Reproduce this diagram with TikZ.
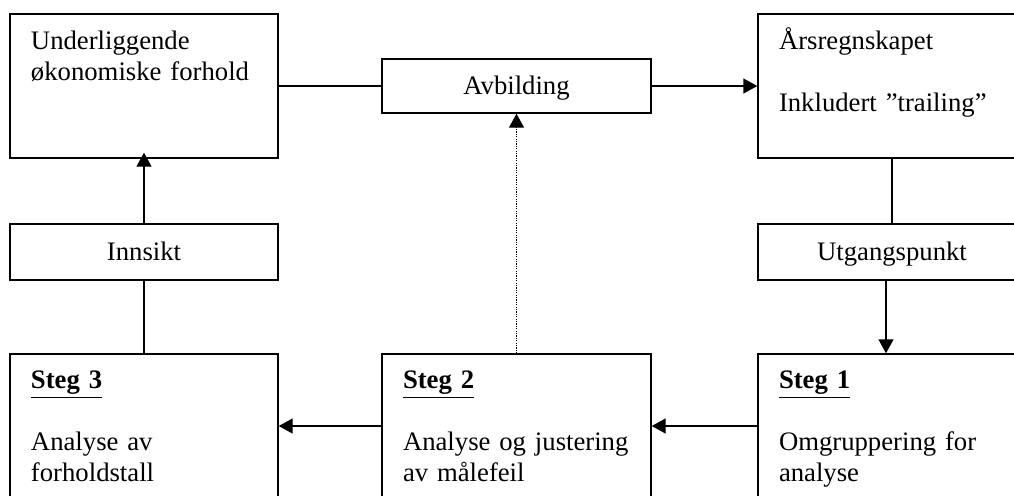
\documentclass[tikz,border=0pt]{standalone}
\usepackage{fontspec}
\setmainfont{Liberation Serif}
\usetikzlibrary{arrows.meta, positioning}

\newcommand{\tekst}{\fontsize{13.35pt}{15.5pt}\selectfont}
\tikzset{
  boks/.style={draw, rectangle, inner sep=0pt, minimum width=134pt, minimum height=72pt, font=\tekst},
  smalboks/.style={boks, minimum height=28pt, text height=11.5pt, text depth=3pt},
  bokstekst/.style={anchor=base west, inner sep=0pt, align=left, text width=125pt, font=\tekst},
  pil/.style={-{Triangle[length=7pt,width=7.5pt]}},
}

\begin{document}
\begin{tikzpicture}[x=0.5pt, y=-0.5pt, line width=0.7pt]
    \useasboundingbox (0,0) rectangle (1014,495);
    \clip (0,0) rectangle (1014,495);

    % Top row
    \node[boks] (okon) at (144,86) {};
    \node[boks, minimum width=134.5pt, minimum height=27pt, text height=11.5pt, text depth=3.5pt] (avb) at (516.5,86) {Avbilding};
    \node[boks] (aars) at (892,86) {};

    % Middle row
    \node[smalboks] (innsikt) at (144,252) {Innsikt};
    \node[smalboks] (utg) at (892,252) {Utgangspunkt};

    % Bottom row
    \node[boks] (steg3) at (144,426) {};
    \node[boks, minimum width=134.5pt] (steg2) at (516.5,426) {};
    \node[boks] (steg1) at (892,426) {};

    % Texts in the boxes
    \node[bokstekst] (okontekst) at ([shift={(21,36)}]okon.north west) {Underliggende\\økonomiske forhold};
    \node[bokstekst] (aarstekst) at ([shift={(21,36)}]aars.north west) {Årsregnskapet\\[\baselineskip]Inkludert ”trailing”};
    \node[bokstekst] (steg3tekst) at ([shift={(21,35)}]steg3.north west) {\underline{\textbf{Steg 3}}\\[\baselineskip]Analyse av\\forholdstall};
    \node[bokstekst] (steg2tekst) at ([shift={(21,35)}]steg2.north west) {\underline{\textbf{Steg 2}}\\[\baselineskip]Analyse og justering\\av målefeil};
    \node[bokstekst] (steg1tekst) at ([shift={(21,35)}]steg1.north west) {\underline{\textbf{Steg 1}}\\[\baselineskip]Omgruppering for\\analyse};

    % Connectors
    \draw (okon.east) -- (avb.west);
    \draw[pil] (avb.east) -- (aars.west);
    \draw (aars.south) -- (utg.north);
    \draw[pil] ([xshift=-3pt]utg.south) -- ([xshift=-3pt]steg1.north);
    \draw[pil] (steg1.west) -- (steg2.east);
    \draw[pil] (steg2.west) -- (steg3.east);
    \draw[pil, dash pattern=on 0.6pt off 0.6pt] (steg2.north) -- (avb.south);
    \draw (steg3.north) -- (innsikt.south);
    \draw[pil, shorten >=-3pt] (innsikt.north) -- (okon.south);
\end{tikzpicture}
\end{document}
